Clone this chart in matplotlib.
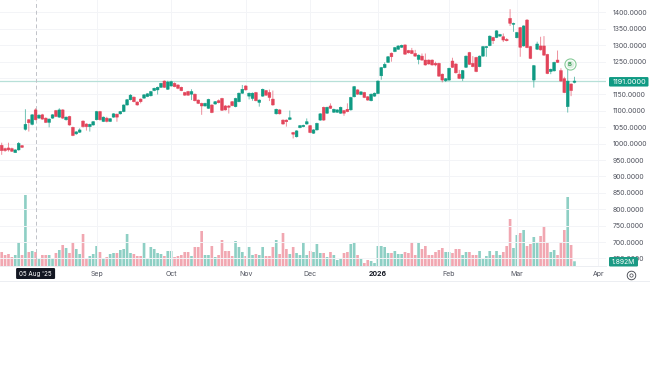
import numpy as np
import matplotlib
matplotlib.use('Agg')
import matplotlib.pyplot as plt
from matplotlib.lines import Line2D
from matplotlib.patches import FancyBboxPatch

opens = [995, 985, 987, 985, 973, 981, 994, 1044, 1073, 1059,
         1103, 1078, 1088, 1078, 1065, 1078, 1101, 1081, 1103, 1073,
         1083, 1050, 1030, 1035, 1069, 1060, 1052, 1057, 1073, 1098,
         1068, 1078, 1068, 1081, 1090, 1091, 1098, 1118, 1134, 1142,
         1127, 1136, 1139, 1144, 1146, 1162, 1164, 1172, 1191, 1166,
         1176, 1184, 1179, 1172, 1156, 1159, 1151, 1151, 1133, 1123,
         1115, 1108, 1118, 1121, 1131, 1138, 1115, 1115, 1128, 1113,
         1128, 1154, 1176, 1145, 1138, 1156, 1126, 1145, 1162, 1156,
         1136, 1091, 1103, 1072, 1072, 1074, 1034, 1021, 1049, 1052,
         1060, 1055, 1032, 1042, 1072, 1111, 1093, 1115, 1096, 1096,
         1093, 1101, 1105, 1103, 1143, 1164, 1150, 1156, 1143, 1131,
         1145, 1153, 1207, 1232, 1248, 1276, 1281, 1288, 1294, 1301,
         1284, 1284, 1275, 1257, 1267, 1255, 1255, 1255, 1245, 1245,
         1212, 1192, 1194, 1252, 1243, 1212, 1199, 1233, 1278, 1245,
         1263, 1235, 1267, 1293, 1299, 1324, 1324, 1328, 1326, 1318,
         1382, 1364, 1323, 1354, 1298, 1377, 1296, 1194, 1288, 1298,
         1298, 1272, 1220, 1222, 1255, 1223, 1198, 1113, 1182, 1187]
highs = [1003, 988, 1003, 988, 983, 1005, 996, 1105, 1075, 1090,
         1108, 1090, 1091, 1080, 1077, 1090, 1103, 1108, 1105, 1083,
         1085, 1052, 1038, 1047, 1071, 1062, 1061, 1069, 1100, 1100,
         1083, 1082, 1078, 1093, 1092, 1100, 1120, 1136, 1151, 1144,
         1129, 1138, 1151, 1154, 1161, 1171, 1174, 1186, 1193, 1192,
         1192, 1187, 1181, 1174, 1158, 1161, 1166, 1153, 1135, 1125,
         1125, 1137, 1120, 1130, 1135, 1140, 1118, 1118, 1130, 1140,
         1156, 1179, 1178, 1156, 1156, 1158, 1135, 1168, 1164, 1165,
         1162, 1107, 1105, 1074, 1074, 1101, 1036, 1041, 1057, 1058,
         1077, 1057, 1044, 1064, 1093, 1113, 1113, 1123, 1107, 1105,
         1113, 1103, 1123, 1143, 1176, 1166, 1160, 1158, 1145, 1153,
         1156, 1193, 1234, 1248, 1267, 1278, 1295, 1300, 1302, 1303,
         1286, 1292, 1286, 1272, 1275, 1275, 1257, 1257, 1250, 1247,
         1214, 1200, 1232, 1262, 1245, 1225, 1225, 1269, 1280, 1267,
         1265, 1269, 1298, 1298, 1330, 1326, 1346, 1335, 1336, 1322,
         1410, 1369, 1341, 1356, 1361, 1380, 1298, 1240, 1311, 1326,
         1328, 1274, 1229, 1250, 1284, 1230, 1204, 1230, 1184, 1204]
lows = [966, 975, 976, 975, 972, 979, 987, 1040, 1037, 1056,
        1071, 1076, 1073, 1063, 1050, 1076, 1081, 1079, 1075, 1070,
        1055, 1023, 1027, 1033, 1049, 1040, 1037, 1055, 1071, 1070,
        1066, 1065, 1066, 1079, 1067, 1089, 1096, 1116, 1132, 1126,
        1116, 1123, 1137, 1142, 1144, 1160, 1150, 1170, 1170, 1164,
        1174, 1172, 1166, 1160, 1146, 1146, 1133, 1129, 1121, 1088,
        1113, 1106, 1093, 1119, 1123, 1100, 1101, 1092, 1114, 1111,
        1126, 1152, 1162, 1135, 1131, 1129, 1113, 1143, 1146, 1130,
        1116, 1089, 1089, 1058, 1052, 1072, 1016, 1019, 1047, 1050,
        1058, 1032, 1030, 1040, 1070, 1070, 1091, 1106, 1094, 1094,
        1091, 1085, 1096, 1101, 1141, 1149, 1148, 1139, 1131, 1129,
        1143, 1151, 1195, 1230, 1246, 1250, 1279, 1286, 1292, 1271,
        1275, 1273, 1265, 1242, 1253, 1238, 1241, 1238, 1236, 1204,
        1187, 1188, 1192, 1231, 1214, 1197, 1191, 1231, 1240, 1233,
        1218, 1233, 1265, 1265, 1297, 1304, 1322, 1326, 1310, 1312,
        1359, 1341, 1321, 1265, 1296, 1291, 1258, 1171, 1286, 1284,
        1268, 1212, 1212, 1220, 1246, 1189, 1154, 1095, 1145, 1184]
closes = [979, 979, 981, 977, 981, 1001, 989, 1059, 1064, 1088,
          1073, 1087, 1075, 1065, 1075, 1088, 1083, 1103, 1078, 1081,
          1057, 1025, 1036, 1042, 1052, 1052, 1059, 1067, 1098, 1073,
          1081, 1068, 1076, 1091, 1081, 1098, 1118, 1134, 1148, 1128,
          1118, 1128, 1149, 1152, 1159, 1169, 1172, 1184, 1172, 1188,
          1189, 1174, 1169, 1162, 1148, 1148, 1159, 1131, 1123, 1115,
          1123, 1135, 1095, 1128, 1125, 1102, 1103, 1111, 1116, 1138,
          1154, 1166, 1164, 1154, 1154, 1131, 1133, 1166, 1148, 1141,
          1118, 1105, 1091, 1060, 1067, 1079, 1029, 1039, 1055, 1056,
          1067, 1034, 1042, 1062, 1091, 1072, 1111, 1108, 1105, 1103,
          1111, 1093, 1098, 1141, 1174, 1151, 1158, 1141, 1133, 1151,
          1154, 1191, 1232, 1242, 1265, 1265, 1293, 1298, 1300, 1273,
          1277, 1275, 1267, 1270, 1255, 1240, 1243, 1240, 1240, 1206,
          1194, 1198, 1230, 1233, 1216, 1199, 1223, 1267, 1242, 1235,
          1220, 1267, 1296, 1296, 1328, 1314, 1344, 1333, 1316, 1314,
          1367, 1367, 1339, 1294, 1359, 1293, 1260, 1238, 1304, 1286,
          1270, 1214, 1227, 1248, 1248, 1191, 1156, 1191, 1162, 1191]
volumes = [5.6, 4.4, 4.8, 3.6, 4.4, 9.6, 4.4, 28.4, 5.6, 6.0,
           5.6, 2.8, 4.4, 4.4, 4.4, 3.2, 5.2, 6.4, 8.4, 7.2,
           5.2, 9.6, 6.8, 4.8, 12.8, 3.2, 4.0, 4.8, 8.0, 5.6,
           3.2, 3.6, 4.8, 5.2, 5.2, 6.4, 6.8, 12.8, 5.2, 4.8,
           4.0, 4.0, 9.2, 3.2, 7.6, 6.8, 5.2, 4.8, 4.0, 6.0,
           6.0, 3.6, 4.0, 4.4, 5.6, 5.6, 4.0, 7.6, 7.6, 14.0,
           4.4, 4.4, 8.0, 3.6, 4.4, 10.4, 6.0, 6.0, 4.0, 10.0,
           7.6, 5.6, 4.0, 7.6, 4.4, 4.8, 4.4, 7.6, 4.0, 4.0,
           7.6, 10.4, 4.8, 13.2, 6.8, 4.8, 7.6, 5.2, 4.4, 9.6,
           4.4, 6.0, 5.6, 8.8, 5.2, 5.2, 3.6, 5.6, 4.4, 2.4,
           2.8, 5.2, 5.6, 8.8, 9.6, 4.4, 2.8, 1.2, 2.4, 2.0,
           1.2, 8.0, 8.0, 7.6, 5.2, 5.2, 6.0, 4.8, 4.8, 5.6,
           5.2, 9.6, 4.4, 9.2, 6.8, 8.0, 4.4, 4.4, 5.6, 6.4,
           7.2, 5.6, 5.6, 5.2, 6.8, 6.8, 4.4, 5.6, 5.6, 4.4,
           4.4, 6.0, 2.8, 4.0, 6.0, 4.4, 6.0, 4.4, 5.6, 8.0,
           18.8, 7.2, 12.4, 13.2, 14.4, 8.0, 8.8, 11.6, 9.6, 12.0,
           16.0, 9.2, 5.6, 6.4, 4.4, 9.6, 14.4, 27.6, 8.4, 1.892]

price_ticks = [650, 700, 750, 800, 850, 900, 950, 1000, 1050, 1100, 1150,
               1200, 1250, 1300, 1350, 1400]
hidden_tick = 1200
month_idx = [28, 50, 72, 91, 111, 132, 152, 176]
month_labels = ['Sep', 'Oct', 'Nov', 'Dec', '2026', 'Feb', 'Mar', 'Apr']
cursor_idx = 10
cursor_label = "05 Aug '25"
volume_label = '1.892M'
signal_idx = 167.6
signal_price = 1243

GREEN = '#0f9a83'
RED = '#e2445a'
TEXT = '#50535e'
GRID = '#f3f4f7'


def draw_candles(ax):
    """Draw wicks and bodies from the ohlc lists."""
    x = np.arange(len(closes))
    o = np.array(opens)
    c = np.array(closes)
    colors = np.where(c >= o, GREEN, RED)
    wicks = ax.vlines(x, lows, highs, colors=colors, linewidth=0.7, alpha=0.6, zorder=3)
    wicks.set_snap(False)
    bars = ax.bar(x, np.abs(c - o), bottom=np.minimum(o, c), width=0.82, color=colors,
                  edgecolor=colors, linewidth=0.35, zorder=4)
    for b in bars:
        b.set_snap(False)


def draw_volume(ax):
    """Volume pane shares the x axis, lower part of the chart only."""
    vol_ax = ax.twinx()
    x = np.arange(len(closes))
    colors = np.where(np.array(closes) >= np.array(opens), GREEN, RED)
    bars = vol_ax.bar(x, volumes, width=0.78, color=colors, alpha=0.47, linewidth=0)
    for b in bars:
        b.set_snap(False)
    vol_ax.set_ylim(0, 106.4)
    vol_ax.set_yticks([])
    for s in vol_ax.spines.values():
        s.set_visible(False)
    vol_ax.patch.set_visible(False)
    return vol_ax


def draw_labels(fig, ax):
    """Last price box, volume box, cursor date box and the icon."""
    ax.axhline(closes[-1], color='#b7e0d8', linewidth=0.9, zorder=2)
    ax.axvline(cursor_idx, color='#c0c2c8', linewidth=0.7, linestyle=(0, (4, 3)), zorder=2)

    ui = fig.add_axes([0, 0, 1, 1], zorder=10)
    ui.set_xlim(0, 650)
    ui.set_ylim(365, 0)
    ui.axis('off')
    ui.patch.set_visible(False)

    y_last = 365 - ax.transData.transform((0, closes[-1]))[1]
    ui.add_patch(FancyBboxPatch((609, y_last - 4), 39.5, 9.5, boxstyle='round,pad=0,rounding_size=1.2',
                                fc=GREEN, ec='none'))
    ui.text(629.8, y_last + 0.8, f'{closes[-1]:.4f}', color='white', fontsize=5.3, ha='center', va='center')

    ui.add_patch(FancyBboxPatch((609, 257), 29, 9.5, boxstyle='round,pad=0,rounding_size=1.2',
                                fc='#1b9a84', ec='none'))
    ui.text(623.5, 261.8, volume_label, color='white', fontsize=4.9, ha='center', va='center')

    x_cur = ax.transData.transform((cursor_idx, 0))[0]
    ui.add_patch(FancyBboxPatch((x_cur - 19.5, 268), 39, 11, boxstyle='round,pad=0,rounding_size=1.2',
                                fc='#131722', ec='none'))
    ui.text(x_cur, 273.7, cursor_label, color='white', fontsize=4.5, ha='center', va='center')

    ui.add_line(Line2D([0, 650], [281, 281], color='#eceef2', linewidth=0.7))

    # settings icon next to the time axis
    ui.plot([631], [274.5], marker='o', ms=6.2, mfc='white', mec='#3c3f48', mew=0.6)
    ui.plot([631], [274.5], marker='o', ms=2.4, mfc='white', mec='#3c3f48', mew=0.5)


def draw_signal(ax):
    """The B marker above the big green candle."""
    ax.plot([signal_idx], [signal_price], marker='o', ms=8, mfc='white', mec='#86cb98',
            mew=0.8, zorder=6, clip_on=False)
    ax.plot([signal_idx], [signal_price], marker='o', ms=5.6, mfc='#dcefe1', mec='none',
            zorder=6, clip_on=False)
    ax.text(signal_idx, signal_price - 1, 'B', fontsize=4.2, color='#3f9d5a', ha='center',
            va='center', zorder=7, fontweight='bold')


def main():
    plt.rcParams['font.family'] = ['Inter', 'DejaVu Sans']
    fig = plt.figure(figsize=(6.5, 3.65), dpi=100)
    ax = fig.add_axes([0, 1 - 266 / 365, 606 / 650, 266 / 365])
    ax.set_xlim(-0.5, 178.3)
    ax.set_ylim(627.1, 1438.1)

    draw_volume(ax)
    ax.set_zorder(2)
    ax.patch.set_visible(False)

    # twinx moves the ticks to the left, so set the right side after it
    ax.yaxis.tick_right()
    ax.set_yticks(price_ticks)
    # the 1200 label sits under the last price box in the chart, so it stays blank
    ax.set_yticklabels(['' if p == hidden_tick else f'{p:.4f}' for p in price_ticks])
    ax.tick_params(axis='y', length=0, pad=5, labelsize=4.9, labelcolor=TEXT)
    ax.set_xticks(month_idx)
    ax.set_xticklabels(month_labels)
    ax.tick_params(axis='x', length=0, pad=3.5, labelsize=5, labelcolor=TEXT)
    for lab in ax.get_xticklabels():
        if lab.get_text() == '2026':
            lab.set_fontweight('bold')
            lab.set_color('#131722')
    ax.grid(True, color=GRID, linewidth=0.7)
    ax.set_axisbelow(True)
    for name, s in ax.spines.items():
        s.set_visible(name == 'bottom')
        s.set_color('#eceef2')
        s.set_linewidth(0.7)

    draw_candles(ax)
    draw_signal(ax)
    draw_labels(fig, ax)

    fig.savefig('out.png', dpi=100)


if __name__ == "__main__":
    main()
